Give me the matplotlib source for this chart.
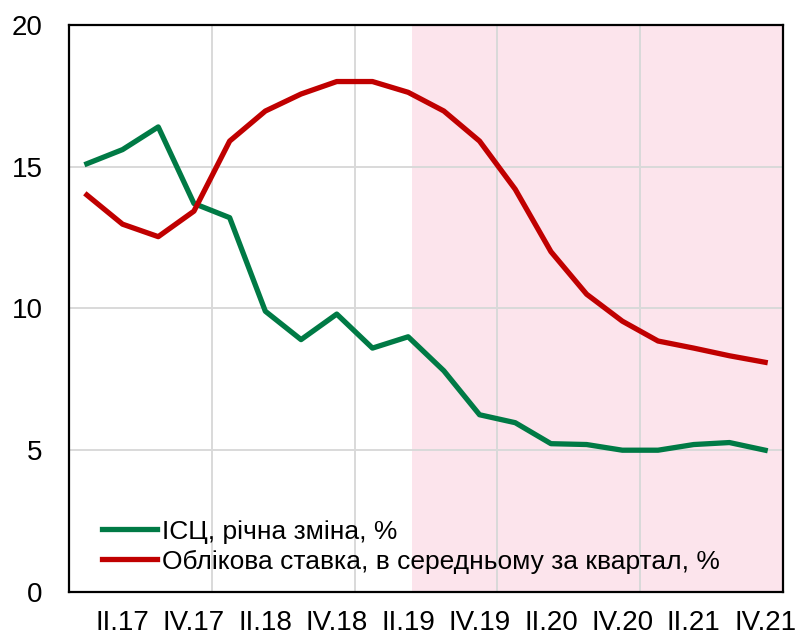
import numpy as np
import matplotlib.pyplot as plt

plt.rcParams['font.family'] = ['Liberation Sans', 'DejaVu Sans']

# quarters I.17 .. IV.21
quarters = ['I.17', 'II.17', 'III.17', 'IV.17',
            'I.18', 'II.18', 'III.18', 'IV.18',
            'I.19', 'II.19', 'III.19', 'IV.19',
            'I.20', 'II.20', 'III.20', 'IV.20',
            'I.21', 'II.21', 'III.21', 'IV.21']

cpi = [15.1, 15.6, 16.4, 13.7, 13.2, 9.9, 8.9, 9.8, 8.6, 9.0,
       7.8, 6.25, 5.97, 5.23, 5.2, 5.0, 5.0, 5.2, 5.27, 5.0]
key_rate = [14.0, 12.97, 12.53, 13.43, 15.9, 16.96, 17.56, 18.0, 18.0, 17.62,
            16.96, 15.9, 14.2, 12.0, 10.5, 9.55, 8.85, 8.6, 8.33, 8.1]

cpi_label = 'ІСЦ, річна зміна, %'
rate_label = 'Облікова ставка, в середньому за квартал, %'

x = np.arange(len(quarters))

fig = plt.figure(figsize=(8, 6.38), dpi=100)
ax = fig.add_axes([0.08625, 0.0721, 0.8925, 0.889])

# forecast period shading
ax.axvspan(9.1, len(quarters) - 0.5, color='#fce4ec', zorder=0, lw=0)

# gridlines between years
for b in [3.5, 7.5, 11.5, 15.5]:
    ax.axvline(b, color='#d9d9d9', lw=1.4, zorder=1)
ax.yaxis.grid(True, color='#d9d9d9', lw=1.4, zorder=1)
ax.set_axisbelow(True)

ax.plot(x, cpi, color='#007a45', lw=3.8, label=cpi_label, zorder=3)
ax.plot(x, key_rate, color='#c00000', lw=3.8, label=rate_label, zorder=3)

ax.set_xlim(-0.5, len(quarters) - 0.5)
ax.set_ylim(0, 20)
ax.set_yticks([0, 5, 10, 15, 20])
ax.set_xticks(x[1::2])
ax.set_xticklabels(quarters[1::2])
ax.tick_params(axis='both', length=0, labelsize=20)
ax.tick_params(axis='x', pad=13)
ax.tick_params(axis='y', pad=19)

for s in ax.spines.values():
    s.set_linewidth(1.6)
    s.set_color('black')

ax.legend(loc='lower left', bbox_to_anchor=(0.02, 0.0), frameon=False,
          fontsize=19, handlelength=2.1, handletextpad=0.2, labelspacing=0.22,
          borderaxespad=0.3)

fig.savefig('out.png', dpi=100)
